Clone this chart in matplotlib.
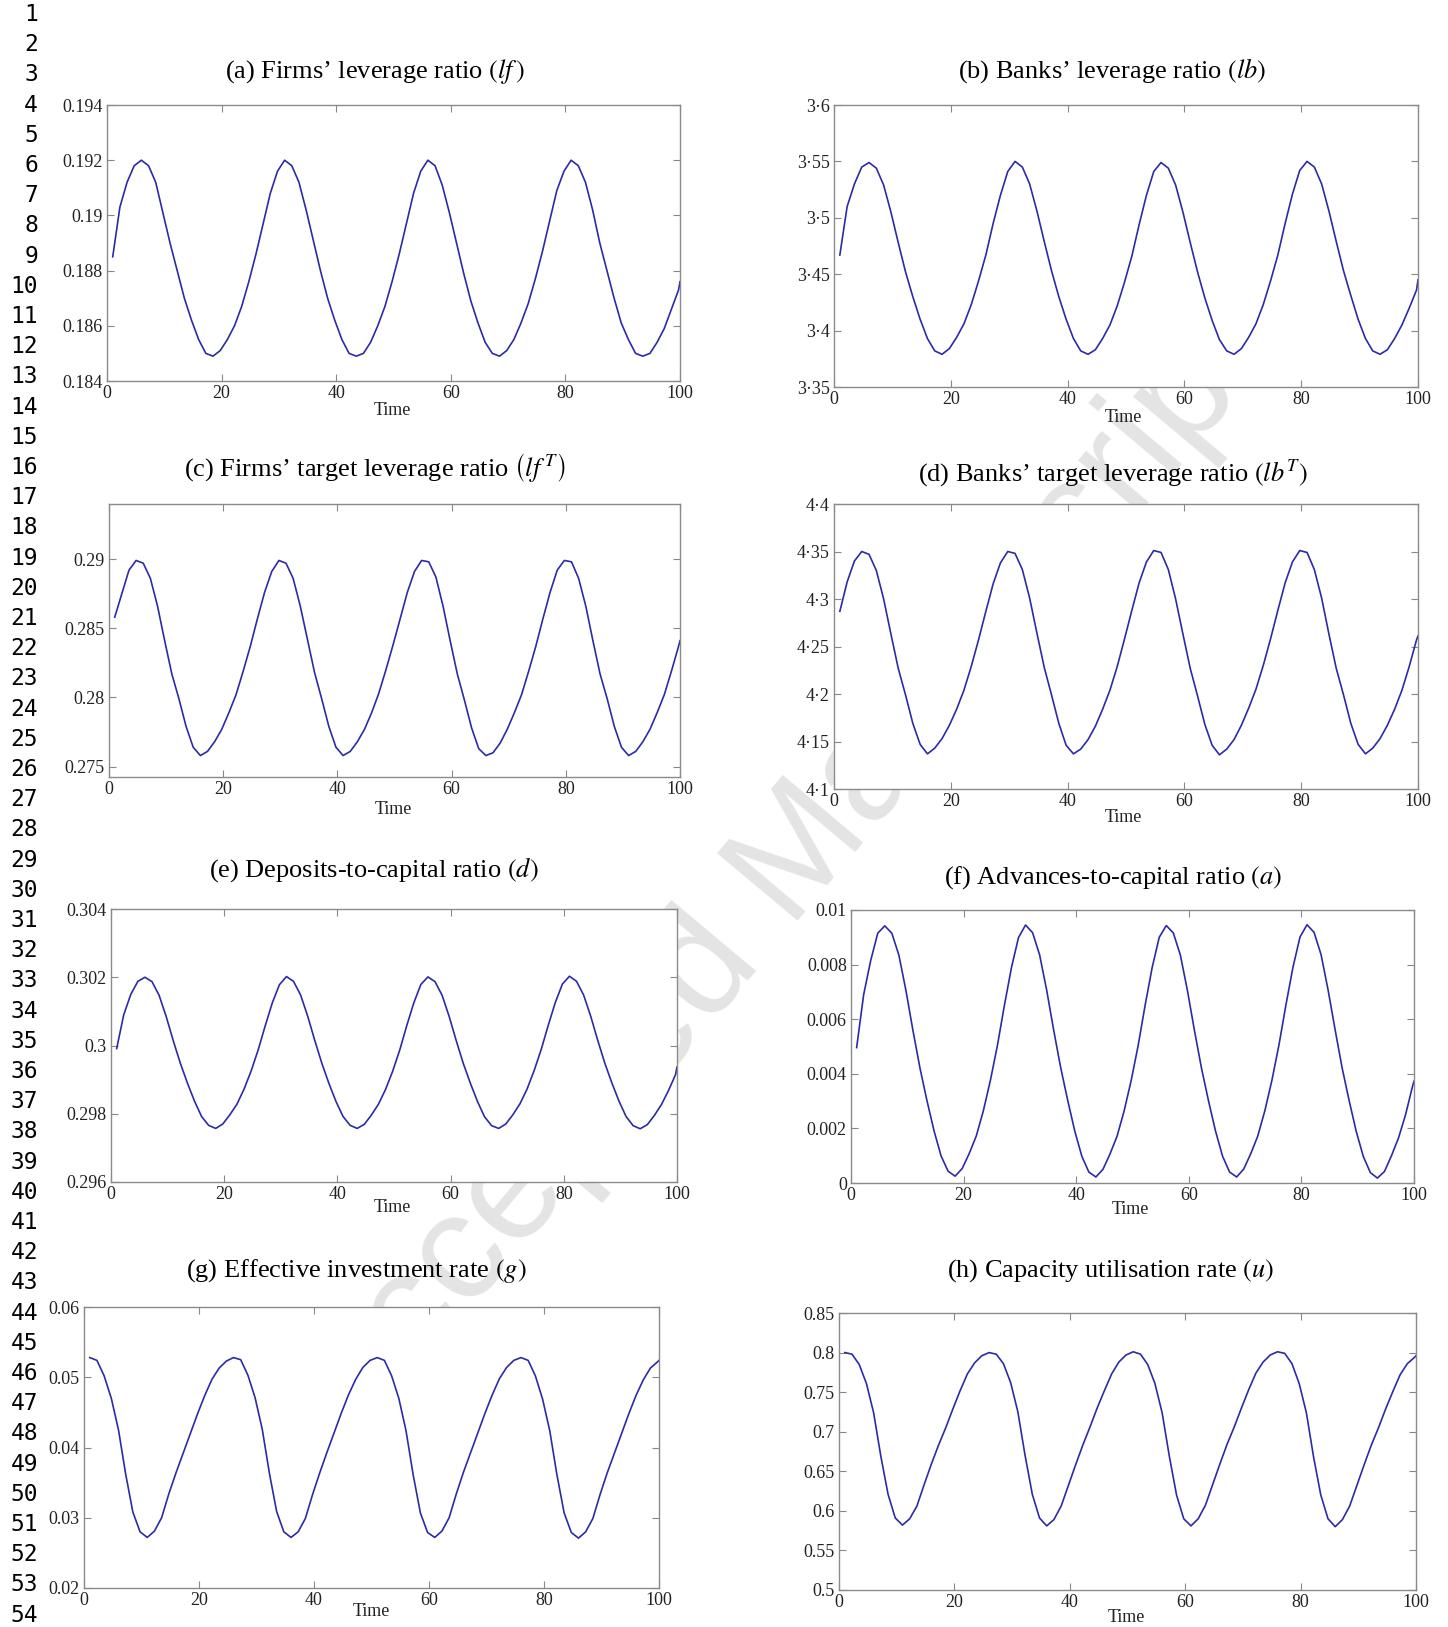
import numpy as np
import matplotlib
matplotlib.use("Agg")
import matplotlib.pyplot as plt

plt.rcParams['font.family'] = 'Liberation Serif'
plt.rcParams['mathtext.fontset'] = 'stix'

# Time grid: t = 1, 2.25, ..., 99.75 and the last period 100
t = np.append(np.arange(1, 100, 1.25), 100)

# (a) firms' leverage ratio
lf = [0.1885, 0.1903, 0.1912, 0.1918,
      0.1920, 0.1918, 0.1912, 0.1901, 0.1890, 0.1880, 0.1870, 0.1862, 0.1855, 0.1850,
      0.1849, 0.1851, 0.1855, 0.1860, 0.1867, 0.1876, 0.1886, 0.1897, 0.1908, 0.1916,
      0.1920, 0.1918, 0.1912, 0.1902, 0.1891, 0.1880, 0.1870, 0.1862, 0.1855, 0.1850,
      0.1849, 0.1850, 0.1854, 0.1860, 0.1867, 0.1876, 0.1886, 0.1897, 0.1908, 0.1916,
      0.1920, 0.1918, 0.1911, 0.1901, 0.1890, 0.1879, 0.1869, 0.1861, 0.1854, 0.1850,
      0.1849, 0.1851, 0.1855, 0.1861, 0.1868, 0.1877, 0.1887, 0.1898, 0.1909, 0.1916,
      0.1920, 0.1918, 0.1912, 0.1902, 0.1890, 0.1880, 0.1870, 0.1861, 0.1855, 0.1850,
      0.1849, 0.1850, 0.1854, 0.1859, 0.1866, 0.1873,
      0.1876]

# (b) banks' leverage ratio
lb = [3.467, 3.510, 3.530, 3.545,
      3.549, 3.544, 3.529, 3.505, 3.478, 3.452, 3.430, 3.410, 3.393, 3.382,
      3.379, 3.384, 3.394, 3.406, 3.423, 3.444, 3.467, 3.495, 3.520, 3.541,
      3.550, 3.545, 3.530, 3.506, 3.479, 3.453, 3.430, 3.410, 3.393, 3.382,
      3.379, 3.383, 3.393, 3.405, 3.422, 3.443, 3.466, 3.494, 3.520, 3.541,
      3.549, 3.544, 3.529, 3.505, 3.478, 3.452, 3.429, 3.409, 3.392, 3.382,
      3.379, 3.384, 3.394, 3.406, 3.423, 3.444, 3.467, 3.495, 3.521, 3.542,
      3.550, 3.545, 3.530, 3.506, 3.479, 3.453, 3.431, 3.410, 3.393, 3.382,
      3.379, 3.383, 3.393, 3.405, 3.420, 3.436,
      3.445]

# (c) firms' target leverage ratio
lfT = [0.2858, 0.2875, 0.2892, 0.2899,
       0.2897, 0.2886, 0.2866, 0.2841, 0.2817, 0.2799, 0.2779, 0.2764, 0.2758, 0.2761,
       0.2768, 0.2777, 0.2789, 0.2802, 0.2819, 0.2837, 0.2857, 0.2876, 0.2891, 0.2899,
       0.2897, 0.2886, 0.2866, 0.2842, 0.2818, 0.2799, 0.2779, 0.2764, 0.2758, 0.2761,
       0.2768, 0.2777, 0.2789, 0.2803, 0.2820, 0.2838, 0.2857, 0.2876, 0.2891, 0.2899,
       0.2898, 0.2887, 0.2866, 0.2841, 0.2817, 0.2798, 0.2778, 0.2763, 0.2758, 0.2760,
       0.2767, 0.2777, 0.2789, 0.2802, 0.2819, 0.2837, 0.2857, 0.2876, 0.2892, 0.2899,
       0.2898, 0.2886, 0.2866, 0.2841, 0.2817, 0.2799, 0.2779, 0.2764, 0.2758, 0.2761,
       0.2768, 0.2777, 0.2789, 0.2802, 0.2819, 0.2837,
       0.2841]

# (d) banks' target leverage ratio
lbT = [4.287, 4.318, 4.340, 4.350,
       4.347, 4.330, 4.300, 4.263, 4.227, 4.199, 4.169, 4.147, 4.137, 4.143,
       4.153, 4.167, 4.184, 4.204, 4.229, 4.257, 4.287, 4.316, 4.338, 4.350,
       4.348, 4.331, 4.301, 4.264, 4.228, 4.199, 4.169, 4.146, 4.137, 4.142,
       4.152, 4.166, 4.184, 4.204, 4.229, 4.258, 4.288, 4.317, 4.339, 4.351,
       4.349, 4.331, 4.300, 4.263, 4.227, 4.198, 4.168, 4.146, 4.136, 4.142,
       4.152, 4.167, 4.185, 4.205, 4.230, 4.258, 4.288, 4.317, 4.339, 4.351,
       4.349, 4.331, 4.301, 4.263, 4.227, 4.199, 4.169, 4.147, 4.137, 4.143,
       4.153, 4.167, 4.184, 4.204, 4.229, 4.257,
       4.261]

# (e) deposits-to-capital ratio
dep = [0.29991, 0.30090, 0.30150, 0.30188,
       0.30200, 0.30187, 0.30147, 0.30085, 0.30014, 0.29948, 0.29890, 0.29837, 0.29792, 0.29766,
       0.29757, 0.29770, 0.29797, 0.29828, 0.29872, 0.29925, 0.29987, 0.30058, 0.30125, 0.30178,
       0.30202, 0.30188, 0.30148, 0.30086, 0.30015, 0.29948, 0.29889, 0.29836, 0.29792, 0.29766,
       0.29757, 0.29769, 0.29796, 0.29828, 0.29871, 0.29924, 0.29986, 0.30058, 0.30125, 0.30179,
       0.30201, 0.30187, 0.30147, 0.30085, 0.30014, 0.29947, 0.29889, 0.29836, 0.29791, 0.29765,
       0.29757, 0.29770, 0.29797, 0.29829, 0.29872, 0.29926, 0.29988, 0.30059, 0.30126, 0.30180,
       0.30203, 0.30188, 0.30148, 0.30086, 0.30015, 0.29948, 0.29890, 0.29837, 0.29792, 0.29765,
       0.29756, 0.29768, 0.29795, 0.29827, 0.29868, 0.29915,
       0.29937]

# (f) advances-to-capital ratio
adv = [0.00496, 0.00690, 0.00815, 0.00915,
       0.00942, 0.00915, 0.00835, 0.00706, 0.00559, 0.00421, 0.00301, 0.00191, 0.00099, 0.00043,
       0.00025, 0.00053, 0.00108, 0.00172, 0.00264, 0.00375, 0.00503, 0.00651, 0.00789, 0.00899,
       0.00945, 0.00917, 0.00836, 0.00707, 0.00560, 0.00422, 0.00302, 0.00190, 0.00098, 0.00040,
       0.00022, 0.00050, 0.00106, 0.00171, 0.00263, 0.00374, 0.00503, 0.00652, 0.00790, 0.00900,
       0.00943, 0.00916, 0.00835, 0.00706, 0.00559, 0.00421, 0.00301, 0.00190, 0.00098, 0.00040,
       0.00022, 0.00051, 0.00107, 0.00172, 0.00264, 0.00375, 0.00504, 0.00652, 0.00790, 0.00901,
       0.00946, 0.00918, 0.00836, 0.00706, 0.00560, 0.00420, 0.00300, 0.00188, 0.00097, 0.00038,
       0.00018, 0.00042, 0.00100, 0.00165, 0.00250, 0.00355,
       0.00373]

# (g) effective investment rate
g = [0.0528, 0.0524, 0.0502, 0.0470, 0.0425, 0.0362, 0.0308, 0.0280, 0.0272, 0.0281,
     0.0300, 0.0334, 0.0364, 0.0392, 0.0420, 0.0448, 0.0474, 0.0497, 0.0513, 0.0523,
     0.0528, 0.0525, 0.0503, 0.0471, 0.0426, 0.0363, 0.0309, 0.0280, 0.0272, 0.0280,
     0.0299, 0.0333, 0.0364, 0.0393, 0.0421, 0.0449, 0.0475, 0.0497, 0.0514, 0.0524,
     0.0528, 0.0524, 0.0502, 0.0470, 0.0424, 0.0361, 0.0307, 0.0279, 0.0272, 0.0281,
     0.0300, 0.0334, 0.0365, 0.0393, 0.0421, 0.0449, 0.0475, 0.0498, 0.0514, 0.0524,
     0.0528, 0.0524, 0.0502, 0.0469, 0.0424, 0.0361, 0.0307, 0.0279, 0.0271, 0.0280,
     0.0299, 0.0333, 0.0364, 0.0392, 0.0420, 0.0448, 0.0474, 0.0496, 0.0513, 0.0522,
     0.0524]

# (h) capacity utilisation rate
u = [0.800, 0.798, 0.785, 0.761, 0.724, 0.669, 0.621, 0.591, 0.582, 0.590,
     0.606, 0.633, 0.659, 0.683, 0.705, 0.729, 0.752, 0.773, 0.787, 0.796,
     0.800, 0.798, 0.786, 0.762, 0.725, 0.670, 0.621, 0.591, 0.581, 0.589,
     0.606, 0.632, 0.658, 0.683, 0.706, 0.730, 0.752, 0.773, 0.788, 0.797,
     0.801, 0.798, 0.785, 0.761, 0.724, 0.669, 0.620, 0.590, 0.581, 0.590,
     0.607, 0.633, 0.659, 0.684, 0.706, 0.730, 0.753, 0.774, 0.788, 0.797,
     0.801, 0.799, 0.786, 0.761, 0.724, 0.668, 0.620, 0.590, 0.580, 0.589,
     0.606, 0.632, 0.658, 0.683, 0.705, 0.729, 0.751, 0.772, 0.786, 0.794,
     0.796]

series = [lf, lb, lfT, lbT, dep, adv, g, u]

titles = [r"(a) Firms’ leverage ratio $\left(lf\,\right)$",
          r"(b) Banks’ leverage ratio $\left(lb\right)$",
          r"(c) Firms’ target leverage ratio $\left(lf^{\,T}\right)$",
          r"(d) Banks’ target leverage ratio $\left(lb^{T}\right)$",
          r"(e) Deposits-to-capital ratio $\left(d\right)$",
          r"(f) Advances-to-capital ratio $\left(a\right)$",
          r"(g) Effective investment rate $\left(g\right)$",
          r"(h) Capacity utilisation rate $\left(u\right)$"]

ylims = [(0.184, 0.194), (3.35, 3.6), (0.27425, 0.29398), (4.1, 4.4),
         (0.296, 0.304), (0, 0.01), (0.02, 0.06), (0.5, 0.85)]
yticks = [[0.184, 0.186, 0.188, 0.19, 0.192, 0.194],
          [3.35, 3.4, 3.45, 3.5, 3.55, 3.6],
          [0.275, 0.28, 0.285, 0.29],
          [4.1, 4.15, 4.2, 4.25, 4.3, 4.35, 4.4],
          [0.296, 0.298, 0.3, 0.302, 0.304],
          [0, 0.002, 0.004, 0.006, 0.008, 0.01],
          [0.02, 0.03, 0.04, 0.05, 0.06],
          [0.5, 0.55, 0.6, 0.65, 0.7, 0.75, 0.8, 0.85]]
yticklabels = [['0.184', '0.186', '0.188', '0.19', '0.192', '0.194'],
               ['3·35', '3·4', '3·45', '3·5', '3·55', '3·6'],
               ['0.275', '0.28', '0.285', '0.29'],
               ['4·1', '4·15', '4·2', '4·25', '4·3', '4·35', '4·4'],
               ['0.296', '0.298', '0.3', '0.302', '0.304'],
               ['0', '0.002', '0.004', '0.006', '0.008', '0.01'],
               ['0.02', '0.03', '0.04', '0.05', '0.06'],
               ['0.5', '0.55', '0.6', '0.65', '0.7', '0.75', '0.8', '0.85']]
xticks = [0, 20, 40, 60, 80, 100]

# layout in pixels: axes box (left, top, right, bottom), title centre, "Time" centre
W, H = 1448, 1627
boxes = [(107, 105, 680, 381), (834, 105, 1418, 387),
         (109, 504, 680, 777), (834, 504, 1418, 789),
         (111, 909, 677, 1182), (851, 910, 1414, 1183),
         (84, 1307, 659, 1588), (839, 1313, 1416, 1590)]
title_pos = [(375, 71), (1112, 71), (375, 468), (1113, 473),
             (374, 870), (1113, 878), (356, 1271), (1111, 1271)]
time_pos = [(392, 411), (1123, 417), (393, 809), (1123, 817),
            (392, 1208), (1130, 1210), (371, 1612), (1126, 1618)]

fig = plt.figure(figsize=(W / 100, H / 100), dpi=100)

# faint watermark behind the panels
fig.text(0.54, 0.46, "Accepted Manuscript", fontsize=110, color='#e4e4e4',
         family='Liberation Sans', rotation=50, ha='center', va='center', zorder=-1)

for i, y in enumerate(series):
    l, tp, r, b = boxes[i]
    ax = fig.add_axes([l / W, 1 - b / H, (r - l) / W, (b - tp) / H])
    ax.plot(t, y, color='#2b2ba8', lw=1.2)
    ax.set_xlim(0, 100)
    ax.set_ylim(*ylims[i])
    ax.set_xticks(xticks)
    ax.set_yticks(yticks[i])
    ax.set_yticklabels(yticklabels[i])
    ax.tick_params(direction='in', length=5, width=0.8, color='#888888',
                   labelsize=13, labelcolor='#222222', top=True, right=True, pad=3)
    for s in ax.spines.values():
        s.set_color('#8a8a8a')
        s.set_linewidth(1.0)
    fig.text(title_pos[i][0] / W, 1 - title_pos[i][1] / H, titles[i],
             fontsize=19, ha='center', va='center')
    fig.text(time_pos[i][0] / W, 1 - time_pos[i][1] / H, 'Time',
             fontsize=13, ha='center', va='center', color='#222222')

# line numbers in the left margin
for n in range(1, 55):
    yy = 14.5 + (n - 1) * 30.2
    fig.text(38 / W, 1 - yy / H, str(n), fontsize=16.5, family='DejaVu Sans Mono',
             ha='right', va='center')

fig.savefig('out.png', dpi=100, facecolor='white')
